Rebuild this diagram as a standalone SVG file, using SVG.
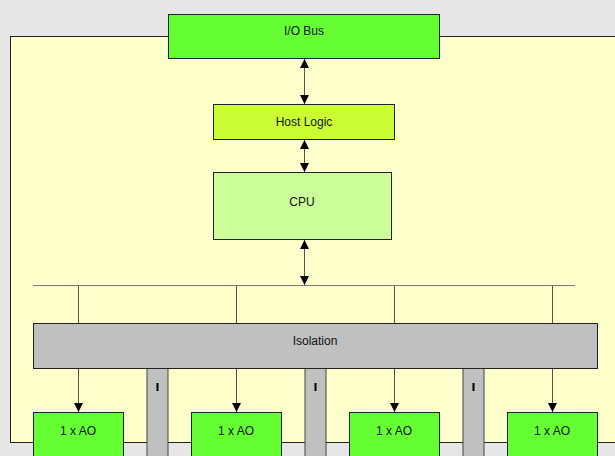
<svg xmlns="http://www.w3.org/2000/svg" width="615" height="456" viewBox="0 0 615 456">
<style>
.box{stroke:#222;stroke-width:1}
.lbl{font-family:"Liberation Sans",Arial,sans-serif;font-size:12px;fill:#111;text-anchor:middle;dominant-baseline:central}
.ln{stroke:#555;stroke-width:1;fill:none}
.bar{fill:#c0c0c0;stroke:#444;stroke-width:1}
</style>
<defs>
<marker id="ah" viewBox="0 0 10 10" refX="10" refY="5" markerWidth="10" markerHeight="9" markerUnits="userSpaceOnUse" orient="auto-start-reverse">
<path d="M0,0 L10,5 L0,10 z" fill="#000"/>
</marker>
</defs>
<rect width="615" height="456" fill="#e6e6e6"/>
<g id="panel"><rect x="10.5" y="36.5" width="620" height="406" fill="#ffffcc" stroke="#222"/></g>
<g id="bars">
<rect class="bar" x="147" y="368" width="21" height="95"/>
<rect x="156.5" y="383" width="2" height="8" fill="#000"/>
<rect class="bar" x="305" y="368" width="21" height="95"/>
<rect x="314.5" y="383" width="2" height="8" fill="#000"/>
<rect class="bar" x="463" y="368" width="21" height="95"/>
<rect x="472.5" y="383" width="2" height="8" fill="#000"/>
</g>
<g id="io-bus"><rect class="box" x="168.5" y="14.5" width="271" height="44" fill="#66ff33"/><text class="lbl" x="304" y="31">I/O Bus</text></g>
<g id="host-logic"><rect class="box" x="213.5" y="104.5" width="181" height="35" fill="#ccff33"/><text class="lbl" x="304" y="121.5">Host Logic</text></g>
<g id="cpu"><rect class="box" x="213.5" y="172.5" width="178" height="67" fill="#ccff99" stroke="#555"/><text class="lbl" x="302" y="202">CPU</text></g>
<g id="isolation"><rect class="box" x="33.5" y="323.5" width="564" height="45" fill="#c0c0c0"/><text class="lbl" x="315" y="341">Isolation</text></g>
<g id="ao1"><rect class="box" x="33.5" y="412.5" width="90" height="60" fill="#66ff33"/><text class="lbl" x="78" y="430.5">1 x AO</text></g>
<g id="ao2"><rect class="box" x="191.5" y="412.5" width="90" height="60" fill="#66ff33"/><text class="lbl" x="236" y="430.5">1 x AO</text></g>
<g id="ao3"><rect class="box" x="349.5" y="412.5" width="90" height="60" fill="#66ff33"/><text class="lbl" x="394" y="430.5">1 x AO</text></g>
<g id="ao4"><rect class="box" x="507.5" y="412.5" width="90" height="60" fill="#66ff33"/><text class="lbl" x="552" y="430.5">1 x AO</text></g>
<g id="connectors">
<line class="ln" x1="304.5" y1="59" x2="304.5" y2="104" marker-start="url(#ah)" marker-end="url(#ah)"/>
<line class="ln" x1="304.5" y1="140" x2="304.5" y2="172" marker-start="url(#ah)" marker-end="url(#ah)"/>
<line class="ln" x1="304.5" y1="240" x2="304.5" y2="285" marker-start="url(#ah)" marker-end="url(#ah)"/>
<line x1="33" y1="285.5" x2="575" y2="285.5" stroke="#777" stroke-width="1.2"/>
<line class="ln" x1="78.5" y1="286" x2="78.5" y2="323"/>
<line class="ln" x1="236.5" y1="286" x2="236.5" y2="323"/>
<line class="ln" x1="394.5" y1="286" x2="394.5" y2="323"/>
<line class="ln" x1="552.5" y1="286" x2="552.5" y2="323"/>
<line class="ln" x1="78.5" y1="369" x2="78.5" y2="412" marker-end="url(#ah)"/>
<line class="ln" x1="236.5" y1="369" x2="236.5" y2="412" marker-end="url(#ah)"/>
<line class="ln" x1="394.5" y1="369" x2="394.5" y2="412" marker-end="url(#ah)"/>
<line class="ln" x1="552.5" y1="369" x2="552.5" y2="412" marker-end="url(#ah)"/>
</g>
</svg>
